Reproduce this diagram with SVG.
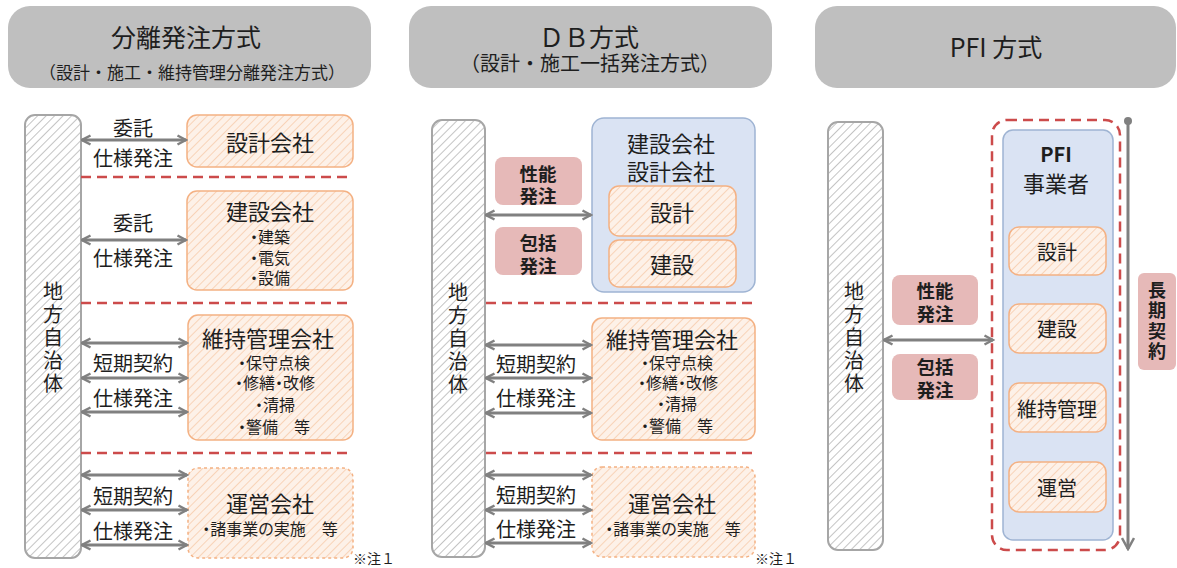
<svg xmlns="http://www.w3.org/2000/svg" width="1177" height="568" viewBox="0 0 1177 568">
<style>
.t{font-family:"Noto Sans CJK JP","Noto Sans",sans-serif;fill:#1e1e1e;text-anchor:middle;dominant-baseline:central}
.h1{font-size:25px}
.h2{font-size:17px}
.h3{font-size:20px}
.lbl{font-size:20px}
.bx{font-size:22px}
.vt{font-family:"Noto Sans CJK JP","Noto Sans",sans-serif;fill:#1e1e1e;text-anchor:middle;writing-mode:vertical-rl;font-size:20px;letter-spacing:3px}
.vp{font-family:"Noto Sans CJK JP","Noto Sans",sans-serif;fill:#1e1e1e;text-anchor:middle;writing-mode:vertical-rl;font-size:18px;font-weight:bold;letter-spacing:2.5px}
.it{font-size:16px;font-feature-settings:"palt"}
.it2{font-size:16px;font-feature-settings:"palt"}
.b{font-weight:bold}
.pb{font-size:18.5px;font-weight:bold}
.note{font-size:14px;text-anchor:start}
.hdr{fill:#bfbfbf}
.bar{fill:url(#hg);stroke:#a6a6a6;stroke-width:2}
.ob{fill:url(#ho);stroke:#f4b183;stroke-width:1.5}
.obd{fill:url(#ho);stroke:#f4b183;stroke-width:1.5;stroke-dasharray:3 3}
.blue{fill:#dae3f3;stroke:#9fb4d3;stroke-width:1.5}
.pink{fill:#e6b9b8}
.rd{stroke:#cc4b4b;stroke-width:2.5;stroke-dasharray:10 6;fill:none}
.ar{stroke:#808080;stroke-width:3;fill:none;marker-start:url(#ah);marker-end:url(#ah)}
</style>
<defs>
<pattern id="hg" width="6" height="6" patternUnits="userSpaceOnUse" patternTransform="rotate(45)">
<rect width="6" height="6" fill="#ffffff"/>
<line x1="0" y1="0" x2="0" y2="6" stroke="#c4c4c4" stroke-width="2"/>
</pattern>
<pattern id="ho" width="6" height="6" patternUnits="userSpaceOnUse" patternTransform="rotate(45)">
<rect width="6" height="6" fill="#fdf1e8"/>
<line x1="0" y1="0" x2="0" y2="6" stroke="#f8d3b8" stroke-width="2"/>
</pattern>
<marker id="ah" viewBox="0 0 12 12" markerWidth="12" markerHeight="12" refX="10.5" refY="6" orient="auto-start-reverse" markerUnits="userSpaceOnUse">
<path d="M2,1.5 L10.5,6 L2,10.5" stroke="#808080" stroke-width="2.5" fill="none"/>
</marker>
<marker id="ad" viewBox="0 0 14 14" markerWidth="14" markerHeight="14" refX="12" refY="7" orient="auto" markerUnits="userSpaceOnUse">
<path d="M1,1 L12,7 L1,13" stroke="#808080" stroke-width="2.5" fill="none"/>
</marker>
</defs>

<!-- headers -->
<g id="hdr-bunri">
<rect class="hdr" x="8" y="6" width="363" height="82" rx="22"/>
<text class="t h1" x="186" y="36">分離発注方式</text>
<text class="t h2" x="192" y="71">（設計・施工・維持管理分離発注方式）</text>
</g>
<g id="hdr-db">
<rect class="hdr" x="409" y="6" width="363" height="82" rx="22"/>
<text class="t h1" x="589" y="36">ＤＢ方式</text>
<text class="t h3" x="590" y="62">（設計・施工一括発注方式）</text>
</g>
<g id="hdr-pfi">
<rect class="hdr" x="815" y="6" width="361" height="82" rx="22"/>
<text class="t h1" x="996" y="46">PFI 方式</text>
</g>

<!-- left column -->
<g id="L-gov">
<rect class="bar" x="25" y="115" width="56" height="443" rx="10"/>
<text class="vt" x="53" y="339">地方自治体</text>
</g>
<g id="L-sekkei">
<rect class="ob" x="187" y="115" width="166" height="52" rx="10"/>
<text class="t bx" x="270" y="141">設計会社</text>
</g>
<g id="L-kensetsu">
<rect class="ob" x="187" y="191" width="166" height="99" rx="10"/>
<text class="t bx" x="270" y="210">建設会社</text>
<text class="t it" x="270" y="236">・建築</text>
<text class="t it" x="270" y="257">・電気</text>
<text class="t it" x="270" y="277">・設備</text>
</g>
<g id="L-iji">
<rect class="ob" x="188" y="315" width="165" height="125" rx="10"/>
<text class="t bx" x="268" y="337">維持管理会社</text>
<text class="t it" x="274" y="362">・保守点検</text>
<text class="t it" x="275" y="382">・修繕・改修</text>
<text class="t it" x="275" y="404">・清掃</text>
<text class="t it" x="274" y="426">・警備　等</text>
</g>
<g id="L-unei">
<rect class="obd" x="188" y="468" width="165" height="90" rx="10"/>
<text class="t bx" x="270" y="502">運営会社</text>
<text class="t it2" x="270" y="528">・諸事業の実施　等</text>
</g>
<text class="t note" x="353" y="558">※注１</text>

<!-- middle column -->
<g id="M-gov">
<rect class="bar" x="432" y="120" width="53" height="437" rx="10"/>
<text class="vt" x="458" y="340">地方自治体</text>
</g>
<g id="M-db">
<rect class="blue" x="592" y="118" width="163" height="174" rx="12"/>
<text class="t bx" x="671" y="142">建設会社</text>
<text class="t bx" x="671" y="170">設計会社</text>
<rect class="ob" x="609" y="186" width="127" height="50" rx="10"/>
<text class="t bx" x="672" y="211">設計</text>
<rect class="ob" x="609" y="240" width="127" height="47" rx="10"/>
<text class="t bx" x="672" y="263">建設</text>
</g>
<g id="M-seino">
<rect class="pink" x="495" y="157" width="87" height="48" rx="8"/>
<text class="t pb" x="538" y="173">性能</text>
<text class="t pb" x="538" y="195">発注</text>
</g>
<g id="M-hokatsu">
<rect class="pink" x="495" y="227" width="87" height="48" rx="8"/>
<text class="t pb" x="538" y="242">包括</text>
<text class="t pb" x="538" y="265">発注</text>
</g>
<g id="M-iji">
<rect class="ob" x="592" y="318" width="163" height="122" rx="10"/>
<text class="t bx" x="672" y="338">維持管理会社</text>
<text class="t it" x="677" y="362">・保守点検</text>
<text class="t it" x="678" y="382">・修繕・改修</text>
<text class="t it" x="677" y="403">・清掃</text>
<text class="t it" x="677" y="425">・警備　等</text>
</g>
<g id="M-unei">
<rect class="obd" x="592" y="467" width="163" height="90" rx="10"/>
<text class="t bx" x="672" y="502">運営会社</text>
<text class="t it2" x="673" y="528">・諸事業の実施　等</text>
</g>
<text class="t note" x="755" y="558">※注１</text>

<!-- right column -->
<g id="R-gov">
<rect class="bar" x="828" y="122" width="55" height="428" rx="10"/>
<text class="vt" x="854" y="339">地方自治体</text>
</g>
<g id="R-seino">
<rect class="pink" x="892" y="275" width="86" height="50" rx="8"/>
<text class="t pb" x="935" y="290">性能</text>
<text class="t pb" x="935" y="313">発注</text>
</g>
<g id="R-hokatsu">
<rect class="pink" x="892" y="354" width="86" height="46" rx="8"/>
<text class="t pb" x="935" y="366">包括</text>
<text class="t pb" x="935" y="389">発注</text>
</g>
<g id="R-pfi">
<rect x="992" y="120" width="128" height="430" rx="15" class="rd"/>
<rect class="blue" x="1003" y="130" width="110" height="410" rx="10"/>
<text class="t b" style="font-size:20px" x="1056" y="153">PFI</text>
<text class="t bx" x="1056" y="182">事業者</text>
<rect class="ob" x="1009" y="227" width="97" height="48" rx="10"/>
<text class="t lbl" x="1057" y="251">設計</text>
<rect class="ob" x="1009" y="304" width="97" height="49" rx="10"/>
<text class="t lbl" x="1057" y="328">建設</text>
<rect class="ob" x="1009" y="383" width="97" height="49" rx="10"/>
<text class="t lbl" x="1057" y="408">維持管理</text>
<rect class="ob" x="1009" y="462" width="97" height="50" rx="10"/>
<text class="t lbl" x="1057" y="487">運営</text>
</g>
<g id="R-choki">
<rect class="pink" x="1138" y="273" width="38" height="97" rx="6"/>
<text class="vp" x="1157" y="322">長期契約</text>
</g>

<!-- connectors -->
<g id="connectors">
<line class="ar" x1="82" y1="140" x2="186" y2="140"/>
<line class="ar" x1="82" y1="240" x2="186" y2="240"/>
<line class="ar" x1="82" y1="343" x2="187" y2="343"/>
<line class="ar" x1="82" y1="378" x2="187" y2="378"/>
<line class="ar" x1="82" y1="412" x2="187" y2="412"/>
<line class="ar" x1="82" y1="475" x2="187" y2="475"/>
<line class="ar" x1="82" y1="510" x2="187" y2="510"/>
<line class="ar" x1="82" y1="545" x2="187" y2="545"/>
<line class="ar" x1="486" y1="215" x2="591" y2="215"/>
<line class="ar" x1="486" y1="345" x2="591" y2="345"/>
<line class="ar" x1="486" y1="378" x2="591" y2="378"/>
<line class="ar" x1="486" y1="413" x2="591" y2="413"/>
<line class="ar" x1="486" y1="475" x2="591" y2="475"/>
<line class="ar" x1="486" y1="510" x2="591" y2="510"/>
<line class="ar" x1="486" y1="543" x2="591" y2="543"/>
<line class="ar" x1="884" y1="340" x2="993" y2="340"/>
<line x1="1128" y1="121" x2="1128" y2="549" stroke="#808080" stroke-width="3" marker-end="url(#ad)"/>
<circle cx="1128" cy="121" r="4" fill="#808080"/>
<line class="rd" x1="81" y1="177" x2="353" y2="177"/>
<line class="rd" x1="81" y1="303" x2="353" y2="303"/>
<line class="rd" x1="81" y1="453" x2="353" y2="453"/>
<line class="rd" x1="486" y1="303" x2="755" y2="303"/>
<line class="rd" x1="486" y1="453" x2="755" y2="453"/>
</g>

<!-- arrow labels -->
<g id="labels">
<text class="t lbl" x="133" y="127">委託</text>
<text class="t lbl" x="133" y="157">仕様発注</text>
<text class="t lbl" x="133" y="222">委託</text>
<text class="t lbl" x="133" y="257">仕様発注</text>
<text class="t lbl" x="133" y="362">短期契約</text>
<text class="t lbl" x="133" y="397">仕様発注</text>
<text class="t lbl" x="133" y="495">短期契約</text>
<text class="t lbl" x="133" y="530">仕様発注</text>
<text class="t lbl" x="536" y="363">短期契約</text>
<text class="t lbl" x="536" y="397">仕様発注</text>
<text class="t lbl" x="536" y="494">短期契約</text>
<text class="t lbl" x="536" y="528">仕様発注</text>
</g>
</svg>
